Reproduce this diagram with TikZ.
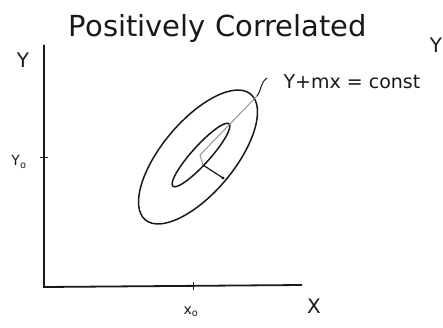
\documentclass[tikz,border=0pt]{standalone}
\usepackage{fontspec}
\setsansfont{DejaVu Sans}
\usepackage{tikz}
\definecolor{inkColor}{RGB}{25, 25, 25}
\definecolor{pencilColor}{RGB}{140, 140, 140}

\begin{document}
\begin{tikzpicture}[x=1pt, y=1pt, font=\sffamily,
	axis/.style={line width=1.8pt, inkColor},
	contour/.style={line width=1.5pt, inkColor},
	guide/.style={line width=0.9pt, pencilColor},
	label/.style={inkColor, font=\sffamily\fontsize{20}{22}\selectfont}]
	\useasboundingbox (0,0) rectangle (443,327);
	\clip (0,0) rectangle (443,327);
	% Title
	\node[label, font=\sffamily\fontsize{29}{32}\selectfont] (title) at (218, 298) {Positively Correlated};
	% Axes
	\coordinate (O) at (44, 40);
	\coordinate (Ytop) at (44, 282);
	\coordinate (Xend) at (302, 42);
	\draw[axis] (Ytop) -- (O) -- (Xend);
	\node[label] (ylab) at (23, 267) {Y};
	\node[label] (xlab) at (314, 21) {X};
	% Ticks at the mean
	\coordinate (y0) at (44, 170);
	\coordinate (x0) at (193, 40);
	\draw[axis, line width=1pt] ([xshift=-4pt]y0) -- ([xshift=4pt]y0);
	\draw[axis, line width=1pt] ([yshift=-3pt]x0) -- ([yshift=5pt]x0);
	\node[label, font=\sffamily\fontsize{14}{16}\selectfont] (y0lab) at (19, 165) {Y$_{\mathsf{o}}$};
	\node[label, font=\sffamily\fontsize{14}{16}\selectfont] (x0lab) at (191, 15) {x$_{\mathsf{o}}$};
	% Contours
	\draw[contour] (198, 170) ellipse[x radius=82, y radius=36, rotate=50];
	\draw[contour] (201, 172) ellipse[x radius=42, y radius=9, rotate=48];
	% Major axis and perpendicular
	\coordinate (C) at (200, 172);
	\coordinate (A) at (257, 231);
	\coordinate (F) at (203, 162);
	\coordinate (P) at (223, 149);
	\coordinate (S) at (267, 249);
	\draw[guide] (C) -- (A);
	\draw[guide] (C) -- (F);
	\draw[contour, line width=1.2pt] (F) -- (P);
	\fill[inkColor] (P) circle (1.6);
	% Label for the major axis
	\node[label, font=\sffamily\fontsize{19}{21}\selectfont, anchor=west] (eqn) at (280, 245) {Y+mx = const};
	\draw[contour, line width=1pt] (A) .. controls (262, 238) and (260, 244) .. (S);
	% Letter at the right edge
	\node[label] (cut) at (436, 282) {Y};
\end{tikzpicture}
\end{document}
